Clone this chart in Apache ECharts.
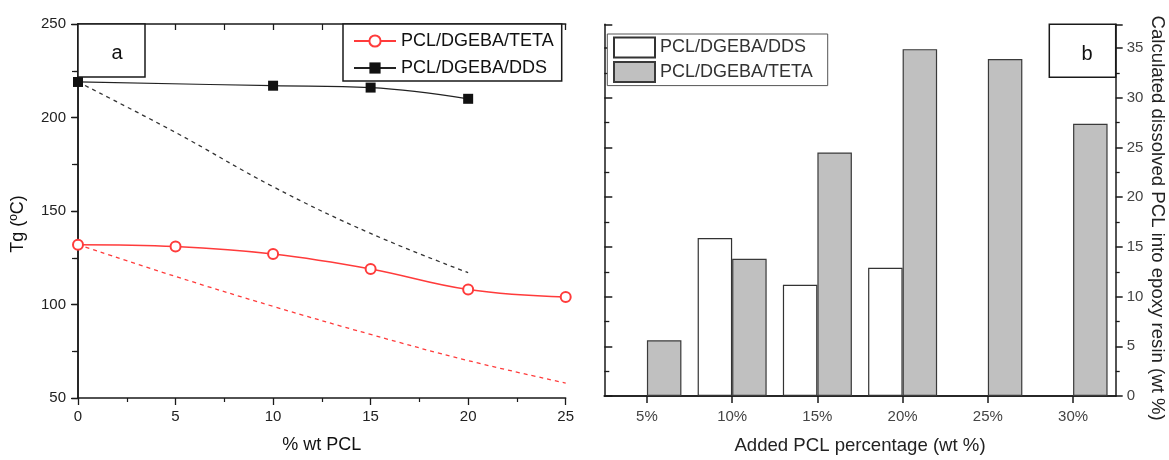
<!DOCTYPE html>
<html><head><meta charset="utf-8">
<script src="https://cdn.jsdelivr.net/npm/echarts@6/dist/echarts.min.js"></script>
<style>html,body{margin:0;padding:0;background:#fff}#c{width:1169px;height:460px}</style>
</head><body><div id="c"></div>
<script>
// Panel a: Tg vs % wt PCL
const pclX = [0, 5, 10, 15, 20, 25];
const tetaTg = [132, 131, 127, 119, 108, 104];
const ddsX = [0, 10, 15, 20];
const ddsTg = [219, 217, 216, 210];
const tetaFitX = [0, 5, 10, 15, 20, 25];
const tetaFit = [132, 115, 99, 84, 70, 58];
const ddsFitX = [0, 5, 10, 15, 20];
const ddsFit = [219, 192, 163, 138, 117];
// Panel b: dissolved PCL
const pclCats = ['5%', '10%', '15%', '20%', '25%', '30%'];
const ddsDissolved = [null, 15.9, 11.2, 12.9, null, null];
const tetaDissolved = [5.6, 13.8, 24.5, 34.9, 33.9, 27.4];
const legendA = ['PCL/DGEBA/TETA', 'PCL/DGEBA/DDS'];
const legendB = ['PCL/DGEBA/DDS', 'PCL/DGEBA/TETA'];

const pairs = (xs, ys) => xs.map((x, i) => [x, ys[i]]);
const FONT = '"Liberation Sans", Arial, sans-serif';
const AX = '#1a1a1a';
const RED = '#ff3b3b';

const chart = echarts.init(document.getElementById('c'), null, {renderer: 'canvas'});
const line = {show: true, lineStyle: {color: AX, width: 1.5}};
const lbl = (show, color, margin) => ({show, color, fontFamily: FONT, fontSize: 15, margin});

chart.setOption({
  animation: false,
  backgroundColor: '#fff',
  textStyle: {fontFamily: FONT},
  grid: [
    {left: 78, top: 24, width: 487.7, height: 374},
    {left: 604.3, top: 24.3, width: 511.4, height: 376.7}
  ],
  xAxis: [
    {type: 'value', gridIndex: 0, position: 'bottom', min: 0, max: 25, interval: 5,
     axisLine: line, splitLine: {show: false},
     axisTick: {show: true, inside: false, length: 7, lineStyle: {color: AX, width: 1.3}},
     minorTick: {show: true, splitNumber: 2, length: 4, lineStyle: {color: AX, width: 1.2}},
     axisLabel: lbl(true, '#222', 11),
     name: '% wt PCL', nameLocation: 'middle', nameGap: 38,
     nameTextStyle: {fontFamily: FONT, fontSize: 18, color: '#111'}},
    {type: 'value', gridIndex: 0, position: 'top', min: 0, max: 25, interval: 5,
     axisLine: line, splitLine: {show: false},
     axisTick: {show: true, inside: true, length: 6, lineStyle: {color: AX, width: 1.3}},
     minorTick: {show: true, splitNumber: 2, length: 6, lineStyle: {color: AX, width: 1.2}},
     axisLabel: {show: false}},
    {type: 'category', gridIndex: 1, position: 'bottom', data: pclCats,
     axisLine: line, splitLine: {show: false},
     axisTick: {show: true, inside: false, alignWithLabel: true, length: 7, lineStyle: {color: AX, width: 1.5}},
     axisLabel: lbl(true, '#444', 13),
     name: 'Added PCL percentage (wt %)', nameLocation: 'middle', nameGap: 40,
     nameTextStyle: {fontFamily: FONT, fontSize: 18.6, color: '#222'}},
    {type: 'category', gridIndex: 1, position: 'top', data: pclCats,
     axisLine: line, splitLine: {show: false},
     axisTick: {show: true, inside: true, alignWithLabel: true, length: 7, lineStyle: {color: AX, width: 1.5}},
     axisLabel: {show: false}}
  ],
  yAxis: [
    {type: 'value', gridIndex: 0, position: 'left', min: 50, max: 250, interval: 50,
     axisLine: line, splitLine: {show: false},
     axisTick: {show: true, inside: false, length: 7, lineStyle: {color: AX, width: 1.3}},
     minorTick: {show: true, splitNumber: 2, length: 4, lineStyle: {color: AX, width: 1.2}},
     axisLabel: lbl(true, '#222', 12),
     name: 'Tg (ºC)', nameLocation: 'middle', nameGap: 51,
     nameTextStyle: {fontFamily: FONT, fontSize: 18, color: '#111', padding: [0, 26, 0, 0]}},
    {type: 'value', gridIndex: 0, position: 'right', min: 50, max: 250, interval: 50,
     axisLine: line, splitLine: {show: false},
     axisTick: {show: true, inside: true, length: 6, lineStyle: {color: AX, width: 1.3}},
     minorTick: {show: true, splitNumber: 2, length: 6, lineStyle: {color: AX, width: 1.2}},
     axisLabel: {show: false}},
    {type: 'value', gridIndex: 1, position: 'left', min: 0, max: 37.4, interval: 5,
     axisLine: line, splitLine: {show: false},
     axisTick: {show: true, inside: true, length: 8, lineStyle: {color: AX, width: 1.5}},
     minorTick: {show: true, splitNumber: 2, length: 5, lineStyle: {color: AX, width: 1.3}},
     axisLabel: {show: false}},
    {type: 'value', gridIndex: 1, position: 'right', min: 0, max: 37.4, interval: 5,
     axisLine: line, splitLine: {show: false},
     axisTick: {show: true, inside: false, length: 7, lineStyle: {color: AX, width: 1.5}},
     minorTick: {show: true, splitNumber: 2, length: 4, lineStyle: {color: AX, width: 1.3}},
     axisLabel: Object.assign(lbl(true, '#444', 11), {showMaxLabel: false}),
     name: 'Calculated dissolved PCL into epoxy resin (wt %)', nameLocation: 'middle',
     nameGap: 32, nameRotate: -90,
     nameTextStyle: {fontFamily: FONT, fontSize: 18.6, color: '#222', padding: [0, 0, 0, 16]}}
  ],
  legend: [
    {data: legendA, orient: 'vertical', left: 343, top: 24, selectedMode: false,
     itemWidth: 42, itemHeight: 14, itemGap: 9, padding: [8, 8, 4, 10],
     backgroundColor: '#fff', borderColor: AX, borderWidth: 1.5, borderRadius: 0,
     textStyle: {fontFamily: FONT, fontSize: 18, color: '#111'}},
    {data: ['DDS b', 'TETA b'], orient: 'vertical', left: 607.3, top: 34, selectedMode: false,
     icon: 'rect',
     itemWidth: 41, itemHeight: 20, itemGap: 2.6, padding: [2.5, 15, 2.5, 5.7],
     backgroundColor: '#fff', borderColor: '#555', borderWidth: 1, borderRadius: 0,
     formatter: n => legendB[n === 'DDS b' ? 0 : 1],
     textStyle: {fontFamily: FONT, fontSize: 18, color: '#333'}}
  ],
  series: [
    {name: 'TETA fit', type: 'line', xAxisIndex: 0, yAxisIndex: 0, data: pairs(tetaFitX, tetaFit),
     smooth: 0.4, symbol: 'none', lineStyle: {color: RED, width: 1.3, type: [4, 4]}, z: 2},
    {name: 'DDS fit', type: 'line', xAxisIndex: 0, yAxisIndex: 0, data: pairs(ddsFitX, ddsFit),
     smooth: 0.4, symbol: 'none', lineStyle: {color: '#333', width: 1.3, type: [4, 4]}, z: 2},
    {name: 'PCL/DGEBA/TETA', type: 'line', xAxisIndex: 0, yAxisIndex: 0, data: pairs(pclX, tetaTg),
     smooth: 0.4, symbol: 'emptyCircle', symbolSize: 10, color: RED,
     itemStyle: {color: RED, borderColor: RED, borderWidth: 1.3},
     lineStyle: {color: RED, width: 1.5}, z: 3},
    {name: 'PCL/DGEBA/DDS', type: 'line', xAxisIndex: 0, yAxisIndex: 0, data: pairs(ddsX, ddsTg),
     smooth: 0.4, symbol: 'rect', symbolSize: 10, color: '#111',
     itemStyle: {color: '#111'}, lineStyle: {color: '#222', width: 1.2}, z: 3},
    {name: 'DDS b', type: 'bar', xAxisIndex: 2, yAxisIndex: 2, data: ddsDissolved,
     barWidth: 34.5, barGap: '0%',
     itemStyle: {color: '#fff', borderColor: '#333', borderWidth: 1.2}},
    {name: 'TETA b', type: 'bar', xAxisIndex: 2, yAxisIndex: 2, data: tetaDissolved,
     barWidth: 34.5, barGap: '0%',
     itemStyle: {color: '#c0c0c0', borderColor: '#3a3a3a', borderWidth: 1.2}}
  ],
  graphic: [
    {type: 'rect', shape: {x: 78, y: 24, width: 67, height: 53}, z: 100,
     style: {fill: '#fff', stroke: AX, lineWidth: 1.5}},
    {type: 'text', x: 117, y: 53, z: 101,
     style: {text: 'a', font: '20px ' + FONT, fill: '#111', align: 'center', verticalAlign: 'middle'}},
    {type: 'rect', shape: {x: 1049.3, y: 24.3, width: 66.4, height: 53}, z: 100,
     style: {fill: '#fff', stroke: AX, lineWidth: 1.5}},
    {type: 'text', x: 1087, y: 54, z: 101,
     style: {text: 'b', font: '20px ' + FONT, fill: '#111', align: 'center', verticalAlign: 'middle'}}
  ]
});
</script>
</body></html>
